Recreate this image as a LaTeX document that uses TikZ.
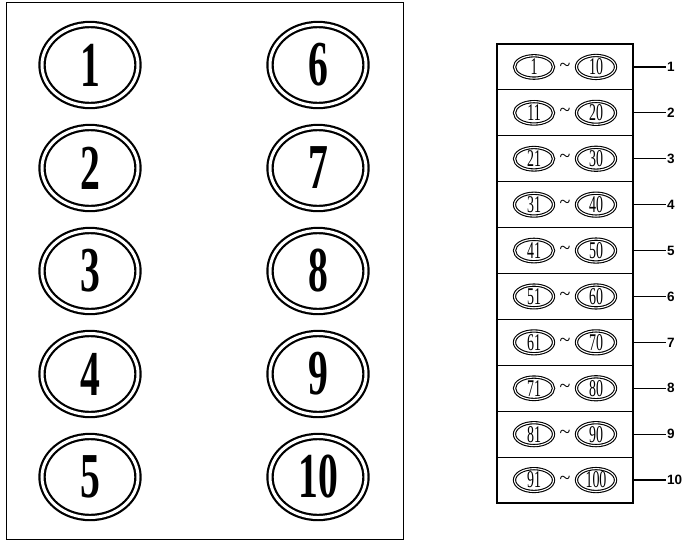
\documentclass[tikz,border=0pt]{standalone}
\usepackage{fontspec}
\usepackage{graphicx}
\setmainfont{Liberation Serif}
\newfontfamily\labfont{Liberation Sans}
\usetikzlibrary{shapes.geometric}
\newcommand\bignum[1]{\scalebox{0.62}[1]{\fontsize{64}{64}\selectfont\bfseries #1}}
\newcommand\smallnum[1]{\scalebox{0.58}[1]{\fontsize{24}{24}\selectfont #1}}
\tikzset{
  bigell/.style={ellipse, draw, double, line width=2.2pt, double distance=3pt,
    minimum width=96pt, minimum height=81pt, inner sep=0pt},
  smallell/.style={ellipse, draw, double, line width=1.1pt, double distance=1.1pt,
    minimum width=39pt, minimum height=22pt, inner sep=0pt},
  rowbox/.style={rectangle, draw, line width=1.1pt, minimum width=136pt, minimum height=45.9pt, inner sep=0pt},
  panel/.style={draw, line width=1.3pt},
  leader/.style={line width=1.2pt},
  lab/.style={anchor=west, inner sep=1pt, font=\labfont\fontsize{13.5}{13.5}\selectfont\bfseries},
  tld/.style={inner sep=0pt, font=\fontsize{20}{20}\selectfont}
}
\begin{document}
\begin{tikzpicture}[x=1pt,y=-1pt]
\useasboundingbox (0,0) rectangle (698,547);
% left panel
\node[panel, rectangle, minimum width=397pt, minimum height=537pt, anchor=north west, inner sep=0pt] (leftpanel) at (6,2) {};
\foreach \i/\y in {1/65,2/168,3/271,4/374,5/477}{
  \node[bigell] (big\i) at (90,\y) {\bignum{\i}};
}
\foreach \i/\y in {6/65,7/168,8/271,9/374,10/477}{
  \node[bigell] (big\i) at (318,\y) {\bignum{\i}};
}
% right panel
\foreach \i/\a/\b in {1/1/10,2/11/20,3/21/30,4/31/40,5/41/50,6/51/60,7/61/70,8/71/80,9/81/90,10/91/100}{
  \pgfmathsetmacro\yy{44+45.9*(\i-0.5)}
  \node[rowbox] (row\i) at (565,\yy) {};
  \node[smallell] (sa\i) at (534,\yy) {\smallnum{\a}};
  \node[smallell] (sb\i) at (596,\yy) {\smallnum{\b}};
  \node[tld] (t\i) at (565,\yy) {\textasciitilde};
  \node[lab] (lab\i) at (666,\yy) {\i};
  \draw[leader] (row\i.east) -- (lab\i.west);
}
\end{tikzpicture}
\end{document}
